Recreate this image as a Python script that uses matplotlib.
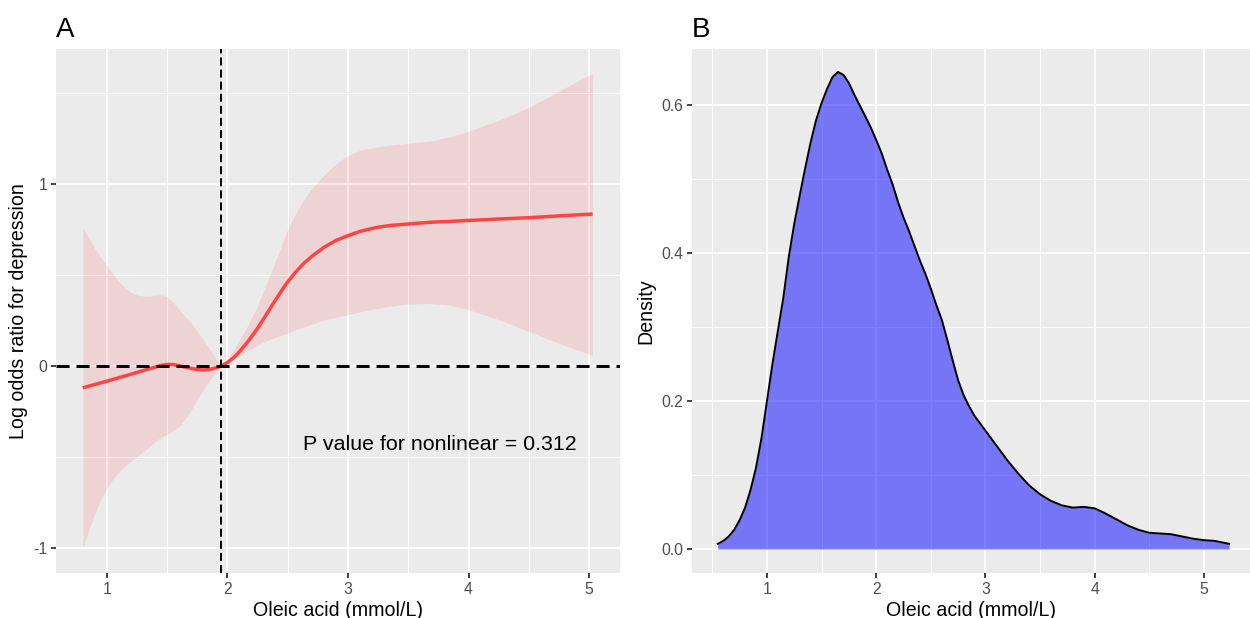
import matplotlib
matplotlib.use('Agg')
import matplotlib.pyplot as plt
from matplotlib.ticker import MultipleLocator

plt.rcParams['font.family'] = ['Liberation Sans', 'DejaVu Sans']
plt.rcParams['lines.scale_dashes'] = False
plt.rcParams['axes.unicode_minus'] = False

# panel A: restricted cubic spline (log odds ratio) with 95% CI
rcs_x = [0.8, 0.85, 0.9, 0.95, 1.0, 1.05, 1.1, 1.15, 1.2, 1.25, 1.3, 1.35, 1.4, 1.45, 1.5, 1.55,
         1.6, 1.65, 1.7, 1.75, 1.8, 1.85, 1.9, 1.95, 2.0, 2.05, 2.1, 2.17, 2.24, 2.31, 2.38, 2.44,
         2.49, 2.56, 2.63, 2.7, 2.8, 2.9, 2.99, 3.1, 3.24, 3.36, 3.49, 3.68, 3.85, 4.0, 4.25, 4.5,
         4.75, 5.03]
rcs_fit = [-0.12, -0.11, -0.101, -0.092, -0.083, -0.073, -0.064, -0.054, -0.045, -0.035, -0.025,
           -0.015, -0.006, 0.004, 0.009, 0.008, 0.002, -0.006, -0.013, -0.019, -0.022, -0.019,
           -0.01, 0.0, 0.02, 0.045, 0.079, 0.135, 0.198, 0.27, 0.344, 0.405, 0.454, 0.512, 0.562,
           0.603, 0.652, 0.69, 0.714, 0.74, 0.762, 0.773, 0.78, 0.79, 0.795, 0.80, 0.808, 0.815,
           0.825, 0.835]
rcs_upper = [0.76, 0.70, 0.645, 0.595, 0.55, 0.505, 0.465, 0.43, 0.405, 0.39, 0.385, 0.385, 0.39,
             0.39, 0.38, 0.35, 0.31, 0.27, 0.235, 0.19, 0.145, 0.095, 0.045, 0.0, 0.04, 0.09,
             0.143, 0.225, 0.317, 0.43, 0.546, 0.645, 0.738, 0.83, 0.912, 0.975, 1.049, 1.11,
             1.154, 1.185, 1.205, 1.215, 1.223, 1.236, 1.26, 1.29, 1.35, 1.42, 1.51, 1.61]
rcs_lower = [-1.0, -0.9, -0.81, -0.73, -0.67, -0.62, -0.58, -0.55, -0.52, -0.495, -0.47, -0.445,
             -0.415, -0.39, -0.375, -0.355, -0.33, -0.29, -0.24, -0.185, -0.13, -0.08, -0.04, 0.0,
             0.02, 0.04, 0.06, 0.087, 0.11, 0.135, 0.155, 0.168, 0.18, 0.198, 0.214, 0.23, 0.253,
             0.268, 0.28, 0.298, 0.317, 0.33, 0.341, 0.344, 0.335, 0.31, 0.255, 0.19, 0.125, 0.06]
ref_x = 1.95
p_text = 'P value for nonlinear = 0.312'

# panel B: density of oleic acid
dens_x = [0.55, 0.6, 0.65, 0.7, 0.75, 0.8, 0.85, 0.9, 0.95, 1.0, 1.05, 1.1, 1.15, 1.2, 1.25, 1.3,
          1.35, 1.4, 1.45, 1.5, 1.55, 1.6, 1.65, 1.7, 1.75, 1.8, 1.9, 1.95, 2.0, 2.05, 2.1, 2.15,
          2.2, 2.25, 2.3, 2.35, 2.4, 2.45, 2.5, 2.55, 2.6, 2.65, 2.7, 2.75, 2.8, 2.85, 2.9, 3.0,
          3.1, 3.2, 3.3, 3.4, 3.5, 3.6, 3.7, 3.8, 3.9, 4.0, 4.1, 4.2, 4.3, 4.4, 4.5, 4.6, 4.7,
          4.8, 4.9, 5.0, 5.1, 5.23]
dens_y = [0.007, 0.011, 0.017, 0.026, 0.039, 0.056, 0.08, 0.11, 0.15, 0.20, 0.25, 0.295, 0.34,
          0.395, 0.44, 0.478, 0.515, 0.55, 0.58, 0.603, 0.622, 0.638, 0.645, 0.641, 0.63, 0.614,
          0.585, 0.57, 0.553, 0.535, 0.513, 0.493, 0.469, 0.448, 0.43, 0.41, 0.39, 0.372, 0.352,
          0.33, 0.31, 0.283, 0.255, 0.228, 0.208, 0.193, 0.18, 0.16, 0.14, 0.12, 0.102, 0.086,
          0.074, 0.065, 0.059, 0.056, 0.057, 0.055, 0.048, 0.04, 0.032, 0.026, 0.022, 0.021,
          0.020, 0.017, 0.014, 0.012, 0.011, 0.007]

xlab = 'Oleic acid (mmol/L)'


def gg_style(ax):
    ax.set_facecolor('#EBEBEB')
    for s in ax.spines.values():
        s.set_visible(False)
    ax.grid(which='major', color='white', linewidth=1.4)
    ax.grid(which='minor', color='white', linewidth=0.7)
    ax.set_axisbelow(True)
    ax.tick_params(which='major', length=3.5, width=1.3, color='#333333',
                   labelcolor='#4D4D4D', labelsize=11.3, pad=2.8)
    ax.tick_params(which='minor', length=0)


fig = plt.figure(figsize=(12.5, 6.18), dpi=100)
axA = fig.add_axes([56 / 1250, 45 / 618, 564 / 1250, 524 / 618])
axB = fig.add_axes([692 / 1250, 45 / 618, 558 / 1250, 524 / 618])

# --- A ---
gg_style(axA)
axA.fill_between(rcs_x, rcs_lower, rcs_upper, color='red', alpha=0.1, linewidth=0)
axA.plot(rcs_x, rcs_fit, color='#FF4444', linewidth=2.5, solid_capstyle='butt')
axA.axhline(0, color='black', linewidth=2.1, dashes=(9.4, 5.0))
axA.axvline(ref_x, color='black', linewidth=1.4, dashes=(5.8, 2.9))
axA.text(3.76, -0.43, p_text, fontsize=15.4, ha='center', va='center')
axA.set_xlim(0.577, 5.257)
axA.set_ylim(-1.137, 1.742)
axA.xaxis.set_major_locator(MultipleLocator(1))
axA.xaxis.set_minor_locator(MultipleLocator(0.5))
axA.yaxis.set_major_locator(MultipleLocator(1))
axA.yaxis.set_minor_locator(MultipleLocator(0.5))
axA.set_xlabel(xlab, fontsize=14.1, labelpad=3)
axA.set_ylabel('Log odds ratio for depression', fontsize=14.1, labelpad=4)
axA.set_title('A', loc='left', fontsize=20, pad=8.6)

# --- B ---
gg_style(axB)
axB.fill_between(dens_x, 0, dens_y, color='blue', alpha=0.5, linewidth=0)
axB.plot(dens_x, dens_y, color='black', linewidth=1.4)
axB.set_xlim(0.314, 5.421)
axB.set_ylim(-0.0324, 0.676)
axB.xaxis.set_major_locator(MultipleLocator(1))
axB.xaxis.set_minor_locator(MultipleLocator(0.5))
axB.yaxis.set_major_locator(MultipleLocator(0.2))
axB.yaxis.set_minor_locator(MultipleLocator(0.1))
axB.yaxis.set_major_formatter(plt.FuncFormatter(lambda v, p: f'{v:.1f}'))
axB.set_xlabel(xlab, fontsize=14.1, labelpad=3)
axB.set_ylabel('Density', fontsize=14.1, labelpad=4)
axB.set_title('B', loc='left', fontsize=20, pad=8.6)

fig.savefig('out.png', dpi=100)
